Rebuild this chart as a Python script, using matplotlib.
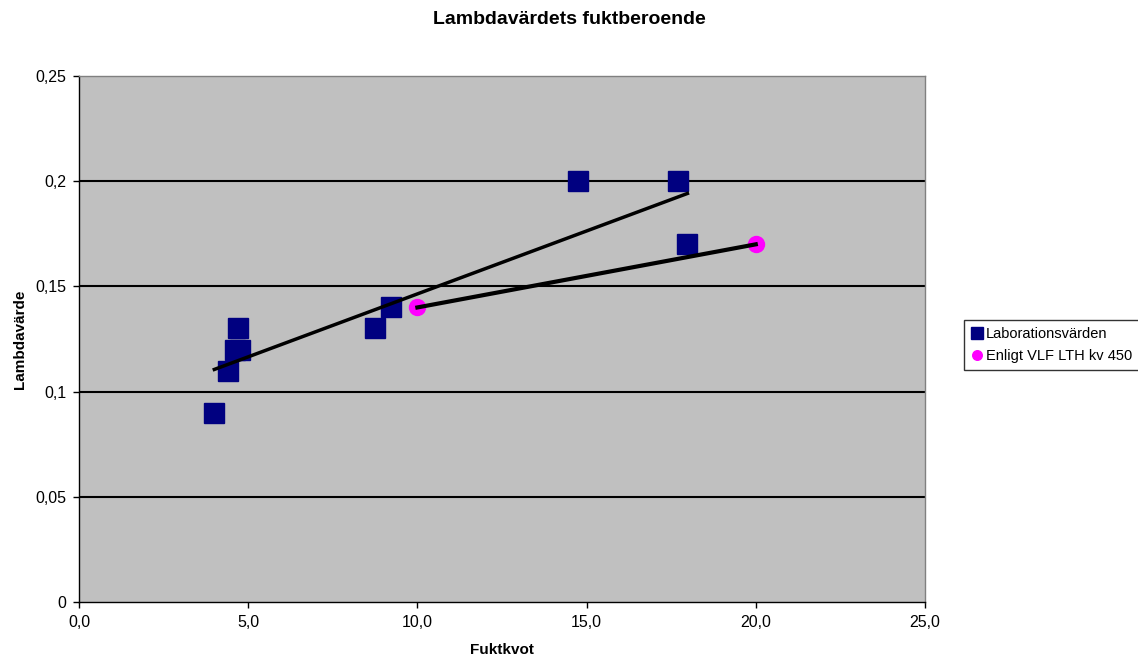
import numpy as np
import matplotlib.pyplot as plt

plt.rcParams['font.family'] = ['Liberation Sans', 'DejaVu Sans']

# Laborationsvärden
fuktkvot_lab = [4.0, 4.4, 4.62, 4.77, 4.71, 8.76, 9.23, 14.76, 17.69, 17.98]
lambda_lab = [0.09, 0.11, 0.12, 0.12, 0.13, 0.13, 0.14, 0.20, 0.20, 0.17]

# Enligt VLF LTH kv 450
fuktkvot_vlf = [10.0, 20.0]
lambda_vlf = [0.14, 0.17]

xticks = [0, 5, 10, 15, 20, 25]
xticklabels = ['0,0', '5,0', '10,0', '15,0', '20,0', '25,0']
yticks = [0, 0.05, 0.1, 0.15, 0.2, 0.25]
yticklabels = ['0', '0,05', '0,1', '0,15', '0,2', '0,25']

fig = plt.figure(figsize=(11.38, 6.57), dpi=100)
ax = fig.add_axes([0.0694, 0.0837, 0.7434, 0.8006])
ax.set_facecolor('#C0C0C0')

# horisontella stödlinjer
for yv in yticks[1:-1]:
    ax.axhline(yv, color='black', linewidth=1.5, zorder=1)

# linjär trendlinje för laborationsvärden
k, m = np.polyfit(fuktkvot_lab, lambda_lab, 1)
xt = np.array([min(fuktkvot_lab), max(fuktkvot_lab)])
ax.plot(xt, k * xt + m, color='black', linewidth=2.5, zorder=3)

ax.plot(fuktkvot_lab, lambda_lab, linestyle='none', marker='s', markersize=15,
        color='#000080', label='Laborationsvärden', zorder=2)
ax.plot(fuktkvot_vlf, lambda_vlf, color='black', linewidth=3, zorder=3)
ax.plot(fuktkvot_vlf, lambda_vlf, linestyle='none', marker='o', markersize=11.5,
        color='#FF00FF', label='Enligt VLF LTH kv 450', zorder=2)

ax.set_xlim(0, 25)
ax.set_ylim(0, 0.25)
ax.set_xticks(xticks)
ax.set_xticklabels(xticklabels)
ax.set_yticks(yticks)
ax.set_yticklabels(yticklabels)
ax.tick_params(direction='out', length=4.3, width=1, labelsize=11.5, pad=5)

for side in ['left', 'bottom']:
    ax.spines[side].set_color('black')
    ax.spines[side].set_linewidth(1)
for side in ['top', 'right']:
    ax.spines[side].set_color('#808080')
    ax.spines[side].set_linewidth(1)

ax.set_xlabel('Fuktkvot', fontsize=11, fontweight='bold')
ax.xaxis.set_label_coords(0.5, -0.0913)
ax.xaxis.label.set_va('center')
ax.set_ylabel('Lambdavärde', fontsize=11, fontweight='bold')
ax.yaxis.set_label_coords(-0.0697, 0.5)
ax.yaxis.label.set_va('center')
fig.text(0.5, 1 - 20 / 657, 'Lambdavärdets fuktberoende', ha='center', va='center',
         fontsize=14, fontweight='bold')

leg = fig.legend(loc='upper left', bbox_to_anchor=(0.841, 0.524), fontsize=10.5,
                 frameon=True, fancybox=False, edgecolor='black', markerscale=0.6,
                 handlelength=0.7, handletextpad=0.3, borderpad=0.5, labelspacing=0.5)
leg.get_frame().set_linewidth(1)

fig.savefig('out.png', dpi=100)
